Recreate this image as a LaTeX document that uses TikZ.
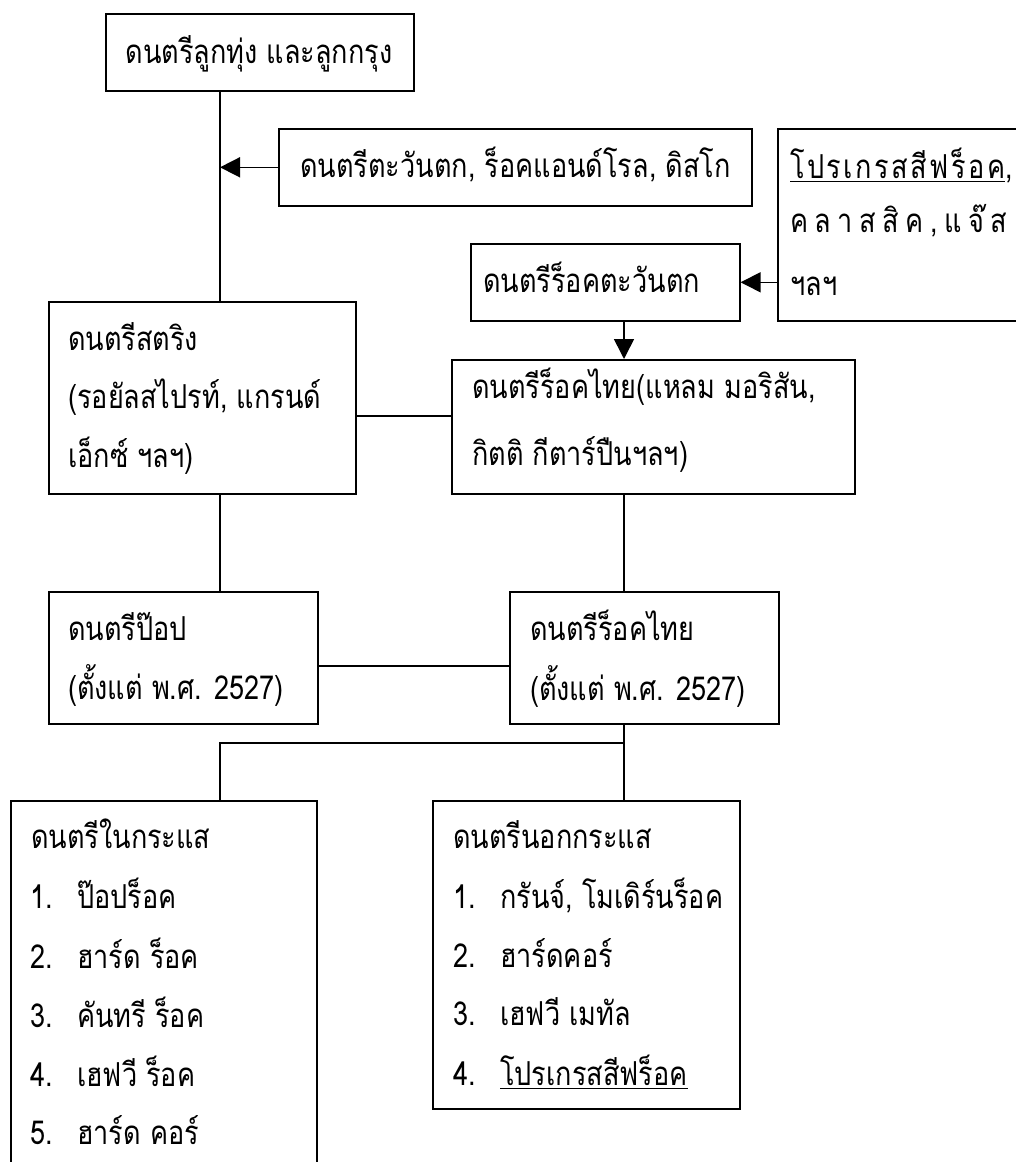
\documentclass[tikz,border=0pt]{standalone}
\usepackage{fontspec}
\usetikzlibrary{arrows.meta,calc}
\newfontfamily\thaifont[Script=Thai,FakeStretch=0.82]{Loma}
\newcommand\thul[1]{\setbox0\hbox{#1}\rlap{\rule[-4pt]{\wd0}{1.5pt}}\box0}
\newcommand\nm[2]{\makebox[47pt][l]{#1}#2}
\newcommand\lsp{\hspace{6.5pt}}
\newcommand\lsq{\hspace{2.5pt}}
\begin{document}
\begin{tikzpicture}[x=1pt,y=-1pt,
  box/.style={draw,line width=1.6pt,inner sep=0pt,anchor=north west},
  txt/.style={inner sep=0pt,anchor=base west,font=\thaifont\fontsize{33}{40}\selectfont},
  conn/.style={line width=1.6pt},
  arr/.style={line width=1.6pt,-{Triangle[length=20pt,width=20pt]}}]
\clip (0,0) rectangle (1016,1162);
\fill[white] (0,0) rectangle (1016,1162);
% boxes
\node[box,minimum width=308pt,minimum height=77pt] (A) at (105,13) {};
\node[box,minimum width=473pt,minimum height=77pt] (B) at (278,128) {};
\node[box,minimum width=260pt,minimum height=192pt] (C) at (777,128) {};
\node[box,minimum width=269pt,minimum height=77pt] (D) at (470,243) {};
\node[box,minimum width=307pt,minimum height=192pt] (E) at (48,301) {};
\node[box,minimum width=403pt,minimum height=134pt] (F) at (451,359) {};
\node[box,minimum width=269pt,minimum height=132pt] (G) at (48,591) {};
\node[box,minimum width=269pt,minimum height=132pt] (H) at (509,591) {};
\node[box,minimum width=306pt,minimum height=400pt] (I) at (10,800) {};
\node[box,minimum width=307pt,minimum height=308pt] (J) at (432,800) {};
% texts
\node[txt,anchor=base] (At) at (259,63) {ดนตรีลูกทุ่ง และลูกกรุง};
\node[txt] (Bt) at (300,177) {ดนตรีตะวันตก, ร็อคแอนด์โรล, ดิสโก};
\node[txt] (Ct1) at (790,178) {\thul{โ\lsq ป\lsq ร\lsq เ\lsq ก\lsq ร\lsq ส\lsq สี\lsq ฟ\lsq ร็\lsq อ\lsq ค},};
\node[txt] (Ct2) at (790,232) {ค\lsp ล\lsp า\lsp ส\lsp สิ\lsp ค\lsp ,\lsp แ\lsp จ๊\lsp ส};
\node[txt] (Ct3) at (790,295) {ฯลฯ};
\node[txt] (Dt) at (483,292) {ดนตรีร็อคตะวันตก};
\node[txt] (Et1) at (68,350) {ดนตรีสตริง};
\node[txt] (Et2) at (68,408) {(รอยัลสไปรท์, แกรนด์};
\node[txt] (Et3) at (68,467) {เอ็กซ์ ฯลฯ)};
\node[txt] (Ft1) at (472,398) {ดนตรีร็อคไทย(แหลม มอริสัน,};
\node[txt] (Ft2) at (472,465) {กิตติ กีตาร์ปืนฯลฯ)};
\node[txt] (Gt1) at (68,640) {ดนตรีป๊อป};
\node[txt] (Gt2) at (68,699) {(ตั้งแต่ พ.ศ. 2527)};
\node[txt] (Ht1) at (530,640) {ดนตรีร็อคไทย};
\node[txt] (Ht2) at (530,700) {(ตั้งแต่ พ.ศ. 2527)};
\node[txt] (It0) at (31,848) {ดนตรีในกระแส};
\node[txt] (It1) at (30,908) {\nm{1.}{ป๊อปร็อค}};
\node[txt] (It2) at (30,968) {\nm{2.}{ฮาร์ด ร็อค}};
\node[txt] (It3) at (30,1027) {\nm{3.}{คันทรี ร็อค}};
\node[txt] (It4) at (30,1086) {\nm{4.}{เฮฟวี ร็อค}};
\node[txt] (It5) at (30,1144) {\nm{5.}{ฮาร์ด คอร์}};
\node[txt] (Jt0) at (453,848) {ดนตรีนอกกระแส};
\node[txt] (Jt1) at (453,908) {\nm{1.}{กรันจ์, โมเดิร์นร็อค}};
\node[txt] (Jt2) at (453,967) {\nm{2.}{ฮาร์ดคอร์}};
\node[txt] (Jt3) at (453,1025) {\nm{3.}{เฮฟวี เมทัล}};
\node[txt] (Jt4) at (453,1085) {\nm{4.}{\thul{โปรเกรสสีฟร็อค}}};
% spines
\coordinate (s1) at (220,0);
\coordinate (s2) at (624,0);
\coordinate (rEF) at (0,416);
\coordinate (rGH) at (0,666);
\coordinate (split) at (624,743);
% connectors
\draw[conn] (A.south -| s1) -- (E.north -| s1);
\draw[arr] (B.west) -- (B.west -| s1);
\draw[arr] (C.west |- D.east) -- (D.east);
\draw[arr] (D.south -| s2) -- (F.north -| s2);
\draw[conn] (E.east |- rEF) -- (F.west |- rEF);
\draw[conn] (E.south -| s1) -- (G.north -| s1);
\draw[conn] (F.south -| s2) -- (H.north -| s2);
\draw[conn] (G.east |- rGH) -- (H.west |- rGH);
\draw[conn] (H.south -| s2) -- (J.north -| s2);
\draw[conn] (split) -| (I.north -| s1);
\end{tikzpicture}
\end{document}
